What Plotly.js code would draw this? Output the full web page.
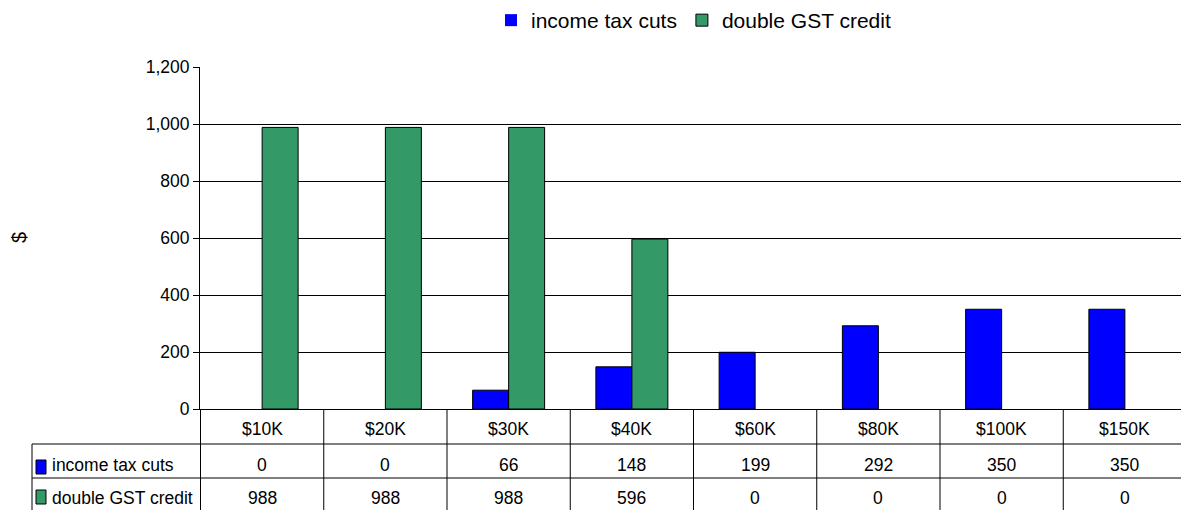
<!DOCTYPE html>
<html>
<head>
<meta charset="utf-8">
<script src="https://cdn.plot.ly/plotly-3.0.1.min.js"></script>
<style>
  html, body { margin: 0; padding: 0; overflow: hidden; background: #fff; }
  #chart { width: 1187px; height: 510px; }
</style>
</head>
<body>
<div id="chart"></div>
<script>
// ---- Data ----
const categories = ['$10K', '$20K', '$30K', '$40K', '$60K', '$80K', '$100K', '$150K'];
const incomeTaxCuts = [0, 0, 66, 148, 199, 292, 350, 350];
const doubleGstCredit = [988, 988, 988, 596, 0, 0, 0, 0];
const seriesNames = ['income tax cuts', 'double GST credit'];
const seriesColors = ['#0000FF', '#339966'];
const yTickValues = [0, 200, 400, 600, 800, 1000, 1200];
const yAxisTitle = '$';

// ---- Layout helpers (pixel -> paper) ----
const W = 1187, H = 510, ML = 200, MR = 0, MT = 67, MB = 101;
const PW = W - ML - MR, PH = H - MT - MB;
const px = x => (x - ML) / PW;
const py = y => (H - MB - y) / PH;

const FONT = '"Liberation Sans", Arial, sans-serif';
const TABLE_SIZE = 17.5;
const seriesValues = [incomeTaxCuts, doubleGstCredit];

const traces = seriesNames.map((name, i) => ({
  type: 'bar',
  name: name,
  x: categories,
  y: seriesValues[i],
  marker: { color: seriesColors[i],
            line: { color: '#000', width: seriesValues[i].map(v => v === 0 ? 0 : 1) } },
  hoverinfo: 'x+y+name'
}));

const shapes = [];
const annotations = [];
const tableBottom = py(510);
const row1Top = py(444), row2Top = py(478);
const tableLeft = px(32);

// vertical column lines at category boundaries
for (let i = 0; i <= categories.length; i++) {
  shapes.push({ type: 'line', xref: 'x', yref: 'paper', x0: i - 0.5, x1: i - 0.5,
    y0: tableBottom, y1: 0, line: { color: '#000', width: 1 } });
}
// horizontal row lines
[row1Top, row2Top].forEach(y => shapes.push({ type: 'line', xref: 'paper', yref: 'paper',
  x0: tableLeft, x1: 1, y0: y, y1: y, line: { color: '#000', width: 1 } }));
// left border of row-label column
shapes.push({ type: 'line', xref: 'paper', yref: 'paper', x0: tableLeft, x1: tableLeft,
  y0: tableBottom, y1: row1Top, line: { color: '#000', width: 1 } });

// legend keys in table
const keyRows = [[460, 474], [490, 504]];
keyRows.forEach((r, i) => {
  shapes.push({ type: 'rect', xref: 'paper', yref: 'paper', x0: px(36), x1: px(46),
    y0: py(r[1]), y1: py(r[0]), fillcolor: seriesColors[i], line: { color: '#000', width: 1 } });
});

// header row: category labels, then the value rows
const rowY = [py(429), py(464.5), py(497.5)];
categories.forEach((c, i) => {
  annotations.push({ xref: 'x', yref: 'paper', x: c, y: rowY[0], text: c, showarrow: false,
    xanchor: 'center', yanchor: 'middle', font: { family: FONT, size: TABLE_SIZE, color: '#000' } });
  seriesValues.forEach((vals, s) => {
    annotations.push({ xref: 'x', yref: 'paper', x: c, y: rowY[s + 1], text: String(vals[i]),
      showarrow: false, xanchor: 'center', yanchor: 'middle',
      font: { family: FONT, size: TABLE_SIZE, color: '#000' } });
  });
});
seriesNames.forEach((n, s) => {
  annotations.push({ xref: 'paper', yref: 'paper', x: px(50), y: rowY[s + 1], text: n,
    showarrow: false, xanchor: 'left', yanchor: 'middle',
    font: { family: FONT, size: TABLE_SIZE, color: '#000' } });
});
// y-axis title
annotations.push({ xref: 'paper', yref: 'paper', x: px(19), y: 0.5, text: yAxisTitle,
  showarrow: false, textangle: -90, xanchor: 'center', yanchor: 'middle',
  font: { family: FONT, size: 20, color: '#000' } });

const layout = {
  width: W, height: H,
  margin: { l: ML, r: MR, t: MT, b: MB, pad: 0 },
  paper_bgcolor: '#fff', plot_bgcolor: '#fff',
  font: { family: FONT, size: 17.5, color: '#000' },
  barmode: 'group',
  bargap: 0.416,
  bargroupgap: 0,
  showlegend: true,
  legend: { orientation: 'h', x: 0.5, xanchor: 'center', y: py(20), yanchor: 'middle',
    font: { family: FONT, size: 21, color: '#000' }, bgcolor: 'rgba(0,0,0,0)' },
  xaxis: {
    type: 'category', showticklabels: false, ticks: '', showgrid: false,
    showline: true, linecolor: '#000', linewidth: 1, zeroline: false, fixedrange: true
  },
  yaxis: {
    range: [0, 1200], tickvals: yTickValues, tickformat: ',d',
    ticks: 'outside', ticklen: 6, tickcolor: '#000', tickwidth: 1,
    showline: true, linecolor: '#000', linewidth: 1,
    showgrid: true, gridcolor: '#000', gridwidth: 1, zeroline: false,
    tickfont: { family: FONT, size: 17.5, color: '#000' }, fixedrange: true
  },
  shapes: shapes,
  annotations: annotations
};

Plotly.newPlot('chart', traces, layout, { displayModeBar: false, staticPlot: true });
</script>
</body>
</html>
